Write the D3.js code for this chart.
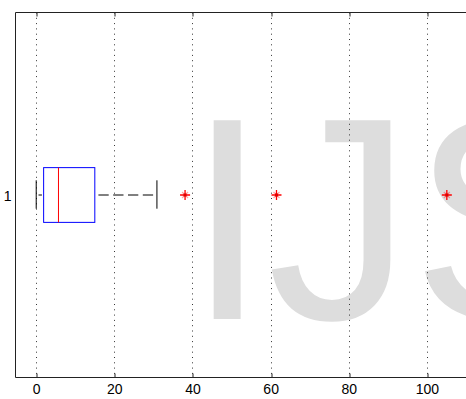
<!DOCTYPE html>
<html>
<head>
<meta charset="utf-8">
<script src="https://cdn.jsdelivr.net/npm/d3@7"></script>
<style>
  body { margin: 0; background: #fff; }
  svg { display: block; }
  .tick-label { font-family: "Liberation Sans", Arial, Helvetica, sans-serif; font-size: 14px; fill: #000; }
</style>
</head>
<body>
<div id="chart"></div>
<script>
// --- data ---
const groups = ["1"];
const whiskerLow = [0];
const quart1 = [1.9];
const medians = [5.7];
const quart3 = [15.0];
const whiskerHigh = [30.9];
const outliers = [[38.1, 61.5, 105.1]];
const xTicks = [0, 20, 40, 60, 80, 100];
const watermark = "IJS";

// plot sizes
const width = 466, height = 399;
const margin = { top: 12.5, left: 15.5, bottom: 377.5 };
const pxPerUnit = 3.907;
const xMin = -5.3, xMax = 112;

const svg = d3.select("#chart").append("svg")
  .attr("width", width)
  .attr("height", height);

svg.append("rect").attr("width", width).attr("height", height).attr("fill", "#fff");

// --- scales ---
const x = d3.scaleLinear()
  .domain([xMin, xMax])
  .range([margin.left, margin.left + (xMax - xMin) * pxPerUnit]);

const y = d3.scalePoint()
  .domain(groups)
  .range([margin.bottom, margin.top])
  .padding(0.5);

const boxH = 0.15 * (margin.bottom - margin.top);
const capH = boxH / 2;

// watermark behind everything (cut off on the right, as in the original)
svg.append("text")
  .attr("x", 187)
  .attr("y", 319)
  .attr("font-family", "Liberation Sans, Arial, sans-serif")
  .attr("font-size", 289)
  .attr("fill", "#dddddd")
  .text(watermark);

// --- grid ---
const grid = svg.append("g").attr("class", "grid");
grid.selectAll("line")
  .data(xTicks)
  .join("line")
  .attr("x1", d => Math.round(x(d)) + 0.5)
  .attr("x2", d => Math.round(x(d)) + 0.5)
  .attr("y1", margin.top)
  .attr("y2", margin.bottom)
  .attr("stroke", "#333")
  .attr("stroke-width", 1)
  .attr("stroke-dasharray", "1,4.3");

// --- axes (MATLAB style, ticks inward) ---
const xAxis = d3.axisBottom(x).tickValues(xTicks).tickSize(-4).tickPadding(7).tickFormat(d3.format("d"));
const gx = svg.append("g")
  .attr("transform", `translate(0, ${margin.bottom})`)
  .call(xAxis);
gx.select(".domain").remove();
gx.selectAll(".tick line").attr("stroke", "#222")
  .attr("transform", d => `translate(${Math.round(x(d)) + 0.5 - x(d)},0)`);
gx.selectAll(".tick text").attr("class", "tick-label").attr("dy", "0.71em");

const xTop = d3.axisTop(x).tickValues(xTicks).tickSize(-4).tickFormat("");
const gxt = svg.append("g")
  .attr("transform", `translate(0, ${margin.top})`)
  .call(xTop);
gxt.select(".domain").remove();
gxt.selectAll(".tick line").attr("stroke", "#222")
  .attr("transform", d => `translate(${Math.round(x(d)) + 0.5 - x(d)},0)`);

const yAxis = d3.axisLeft(y).tickSize(0).tickPadding(4);
const gy = svg.append("g")
  .attr("transform", `translate(${margin.left}, 0)`)
  .call(yAxis);
gy.select(".domain").remove();
gy.selectAll(".tick text").attr("class", "tick-label").attr("dy", "0.4em");

// axes frame
const frame = svg.append("g").attr("stroke", "#222").attr("stroke-width", 1);
frame.append("line").attr("x1", margin.left).attr("x2", width).attr("y1", margin.top).attr("y2", margin.top);
frame.append("line").attr("x1", margin.left).attr("x2", width).attr("y1", margin.bottom).attr("y2", margin.bottom);
frame.append("line").attr("x1", margin.left).attr("x2", margin.left).attr("y1", margin.top).attr("y2", margin.bottom);

// --- boxes ---
const stats = groups.map((g, i) => ({
  g, lo: whiskerLow[i], q1: quart1[i], med: medians[i], q3: quart3[i], hi: whiskerHigh[i], out: outliers[i]
}));

const boxes = svg.append("g").attr("class", "boxes");
const bx = boxes.selectAll("g").data(stats).join("g");

// whiskers
bx.append("line")
  .attr("x1", d => x(d.q3)).attr("x2", d => x(d.hi))
  .attr("y1", d => Math.round(y(d.g))).attr("y2", d => Math.round(y(d.g)))
  .attr("stroke", "#000").attr("stroke-dasharray", "10.3,4.5").attr("stroke-dashoffset", 11.2);
bx.append("line")
  .attr("x1", d => x(d.lo)).attr("x2", d => x(d.q1))
  .attr("y1", d => Math.round(y(d.g))).attr("y2", d => Math.round(y(d.g)))
  .attr("stroke", "#000").attr("stroke-dasharray", "0,2.3,3.4,10");

// caps
[d => d.lo, d => d.hi].forEach(f => {
  bx.append("line")
    .attr("x1", d => x(f(d))).attr("x2", d => x(f(d)))
    .attr("y1", d => y(d.g) - capH / 2 - 1).attr("y2", d => y(d.g) + capH / 2)
    .attr("stroke", "#000");
});

bx.append("rect")
  .attr("x", d => x(d.q1))
  .attr("y", d => y(d.g) - boxH / 2)
  .attr("width", d => x(d.q3) - x(d.q1))
  .attr("height", boxH)
  .attr("fill", "none")
  .attr("stroke", "#0000ff");

bx.append("line")
  .attr("x1", d => x(d.med)).attr("x2", d => x(d.med))
  .attr("y1", d => y(d.g) - boxH / 2).attr("y2", d => y(d.g) + boxH / 2)
  .attr("stroke", "#ff0000");

// outliers, red '+'
const outData = stats.flatMap(d => d.out.map(v => ({ g: d.g, v })));
const marks = boxes.selectAll("g.out").data(outData).join("g")
  .attr("class", "out")
  .attr("transform", d => `translate(${x(d.v)}, ${Math.round(y(d.g))})`);
marks.append("path")
  .attr("d", "M-3,-3L3,3M-3,3L3,-3")
  .attr("stroke", "#ff0000").attr("stroke-opacity", 0.35).attr("stroke-width", 1.2);
marks.append("path")
  .attr("d", "M-5,0H5M0,-5V5")
  .attr("stroke", "#ff0000").attr("stroke-width", 1.3);
marks.append("rect")
  .attr("x", -1.5).attr("y", -1.5).attr("width", 3).attr("height", 3)
  .attr("fill", "#e00000");
</script>
</body>
</html>
